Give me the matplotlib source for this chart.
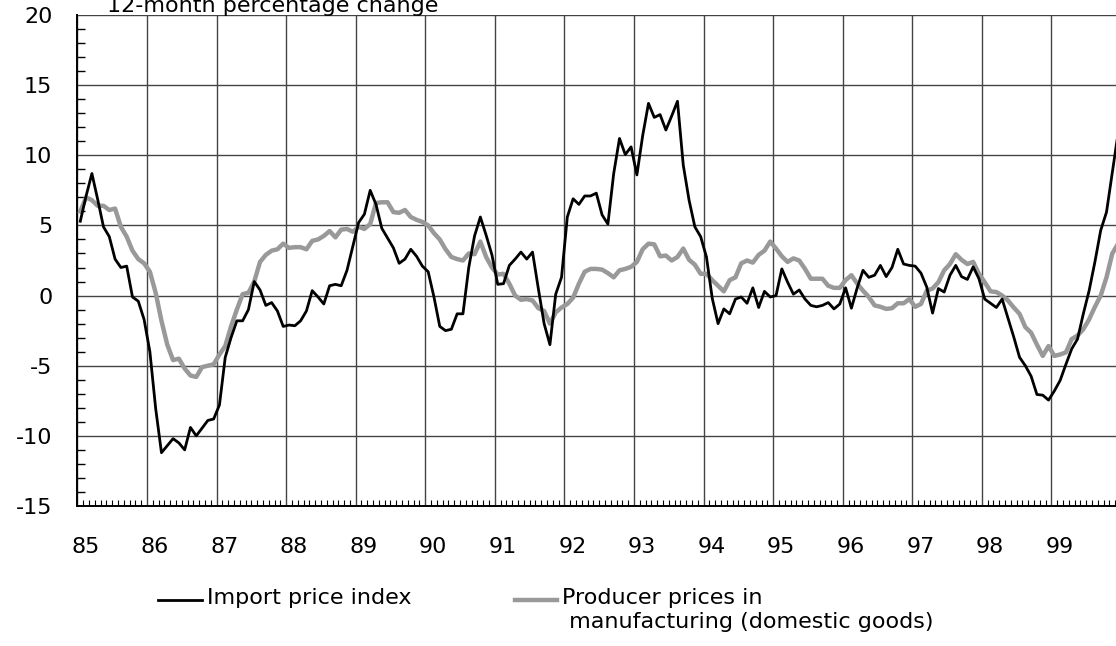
import numpy as np
import matplotlib
matplotlib.use('Agg')
import matplotlib.pyplot as plt
import matplotlib.transforms as mtransforms
from matplotlib.lines import Line2D

plt.rcParams['font.family'] = ['DejaVu Sans']
plt.rcParams['axes.unicode_minus'] = False

START_YEAR = 1985
YEARS = list(range(1985, 2000))
YEAR_LABELS = ['85', '86', '87', '88', '89', '90', '91', '92', '93', '94', '95', '96', '97', '98', '99']

# 12-month % change, monthly Jan 1985 .. Dec 1999
import_prices = [
    5.3, 7.1, 8.7, 6.85, 4.9, 4.2, 2.6, 2.0, 2.1, -0.1, -0.4, -1.7,
    -4.0, -8.05, -11.2, -10.7, -10.2, -10.5, -11.0, -9.4, -10.0, -9.45, -8.9, -8.8,
    -7.8, -4.4, -3.0, -1.8, -1.8, -1.0, 1.0, 0.4, -0.7, -0.5, -1.1, -2.2,
    -2.1, -2.15, -1.8, -1.1, 0.35, -0.1, -0.6, 0.7, 0.8, 0.7, 1.8, 3.5,
    5.2, 5.8, 7.5, 6.5, 4.8, 4.1, 3.4, 2.3, 2.6, 3.3, 2.8, 2.1,
    1.7, -0.1, -2.2, -2.5, -2.4, -1.3, -1.3, 2.0, 4.25, 5.6, 4.3, 2.9,
    0.8, 0.85, 2.15, 2.6, 3.1, 2.6, 3.1, 0.5, -2.0, -3.5, 0.1, 1.3,
    5.6, 6.9, 6.5, 7.1, 7.1, 7.3, 5.75, 5.1, 8.7, 11.2, 10.05, 10.6,
    8.6, 11.4, 13.7, 12.7, 12.9, 11.8, 12.8, 13.85, 9.3, 6.8, 4.9, 4.2,
    2.75, -0.2, -2.0, -0.95, -1.3, -0.25, -0.1, -0.55, 0.55, -0.85, 0.3, -0.1,
    0.0, 1.9, 0.95, 0.1, 0.4, -0.25, -0.7, -0.8, -0.7, -0.5, -0.95, -0.6,
    0.55, -0.9, 0.55, 1.8, 1.3, 1.45, 2.15, 1.35, 2.0, 3.3, 2.25, 2.15,
    2.1, 1.6, 0.6, -1.25, 0.5, 0.25, 1.45, 2.15, 1.35, 1.15, 2.05, 1.2,
    -0.25, -0.55, -0.85, -0.25, -1.6, -2.95, -4.4, -5.0, -5.75, -7.05, -7.1, -7.45,
    -6.8, -6.05, -4.9, -3.8, -3.1, -1.3, 0.35, 2.4, 4.65, 5.95, 8.75, 11.6,
]
producer_prices = [
    6.0, 7.0, 6.8, 6.4, 6.4, 6.1, 6.2, 4.9, 4.2, 3.2, 2.6, 2.3,
    1.7, 0.2, -1.8, -3.5, -4.6, -4.5, -5.2, -5.7, -5.8, -5.1, -5.0, -4.9,
    -4.2, -3.6, -2.2, -1.0, 0.1, 0.2, 1.0, 2.4, 2.9, 3.2, 3.3, 3.7,
    3.4, 3.45, 3.45, 3.3, 3.9, 4.0, 4.25, 4.6, 4.15, 4.7, 4.75, 4.55,
    4.9, 4.75, 5.1, 6.6, 6.65, 6.65, 5.95, 5.9, 6.1, 5.6, 5.4, 5.25,
    5.0, 4.45, 4.0, 3.3, 2.75, 2.6, 2.5, 3.0, 2.95, 3.85, 2.75, 2.0,
    1.5, 1.55, 0.85, 0.0, -0.3, -0.25, -0.35, -0.9, -1.1, -2.0, -1.2, -0.85,
    -0.6, -0.15, 0.85, 1.7, 1.9, 1.9, 1.85, 1.6, 1.3, 1.8, 1.9, 2.05,
    2.4, 3.3, 3.7, 3.65, 2.8, 2.85, 2.5, 2.75, 3.35, 2.55, 2.2, 1.55,
    1.55, 1.1, 0.7, 0.3, 1.1, 1.3, 2.3, 2.5, 2.35, 2.9, 3.2, 3.85,
    3.35, 2.8, 2.4, 2.65, 2.5, 1.9, 1.2, 1.2, 1.2, 0.7, 0.55, 0.55,
    1.1, 1.45, 0.85, 0.35, -0.1, -0.7, -0.8, -0.95, -0.9, -0.55, -0.55, -0.25,
    -0.8, -0.6, 0.35, 0.5, 0.95, 1.8, 2.25, 2.95, 2.55, 2.25, 2.4, 1.55,
    0.95, 0.3, 0.25, 0.0, -0.35, -0.85, -1.3, -2.25, -2.65, -3.5, -4.3, -3.6,
    -4.3, -4.2, -4.05, -3.1, -2.85, -2.4, -1.7, -0.8, 0.0, 1.3, 3.0, 3.7,
]

TITLE = '12-month percentage change'
LABEL_IMPORT = 'Import price index'
LABEL_PRODUCER = 'Producer prices in\n manufacturing (domestic goods)'

W, H = 1116, 646
FS = 16
GREY = '#999999'

fig = plt.figure(figsize = (W / 100, H / 100), dpi = 100)
# axes run to Jan 2000, slightly past the canvas edge like the original
ax_l, ax_r, ax_t, ax_b = 77.4, 1121.0, 15.0, 506.0
ax = fig.add_axes([ax_l / W, 1 - ax_b / H, (ax_r - ax_l) / W, (ax_b - ax_t) / H])

months = START_YEAR + (np.arange(len(import_prices)) + 0.5) / 12
ax.plot(months, producer_prices, color = GREY, lw = 3.2, zorder = 3)
ax.plot(months, import_prices, color = 'black', lw = 2.0, zorder = 4)

ax.set_xlim(1985, 2000)
ax.set_ylim(-15, 20)

ax.set_yticks(np.arange(-15, 21, 5))
ax.set_yticks(np.arange(-15, 21, 1), minor = True)
ax.set_xticks(YEARS)
ax.set_xticklabels(YEAR_LABELS)
ax.set_xticks(np.arange(1985, 2000, 1 / 12), minor = True)

ax.grid(True, which = 'major', color = '#444444', lw = 1.0)
ax.tick_params(axis = 'both', which = 'major', length = 0, labelsize = FS)
ax.tick_params(axis = 'y', which = 'major', pad = 18)
ax.tick_params(axis = 'x', which = 'major', pad = 22)
ax.tick_params(axis = 'y', which = 'minor', direction = 'in', length = 5.5, width = 1.0)
ax.tick_params(axis = 'x', which = 'minor', direction = 'in', length = 4, width = 0.8)

offset = mtransforms.ScaledTranslation(8 / 100, 0, fig.dpi_scale_trans)
for lbl in ax.get_xticklabels():
    lbl.set_transform(lbl.get_transform() + offset)

for side in ['top', 'right']:
    ax.spines[side].set_visible(False)
for side in ['left', 'bottom']:
    ax.spines[side].set_linewidth(1.4)

fig.text(107 / W, 1 - 12 / H, TITLE, fontsize = FS, va = 'baseline', ha = 'left')

# legend, laid out by hand below the axis
def legend_entry(x0, x1, y, color, lw, label):
    fig.add_artist(Line2D([x0 / W, x1 / W], [1 - y / H, 1 - y / H], color = color, lw = lw))
    fig.text((x1 + 5) / W, 1 - (y - 12) / H, label, fontsize = FS, va = 'top', ha = 'left',
        linespacing = 1.25)

legend_entry(158, 202, 600, 'black', 2.0, LABEL_IMPORT)
legend_entry(515, 557, 600, GREY, 3.2, LABEL_PRODUCER)

fig.savefig('out.png', dpi = 100)
